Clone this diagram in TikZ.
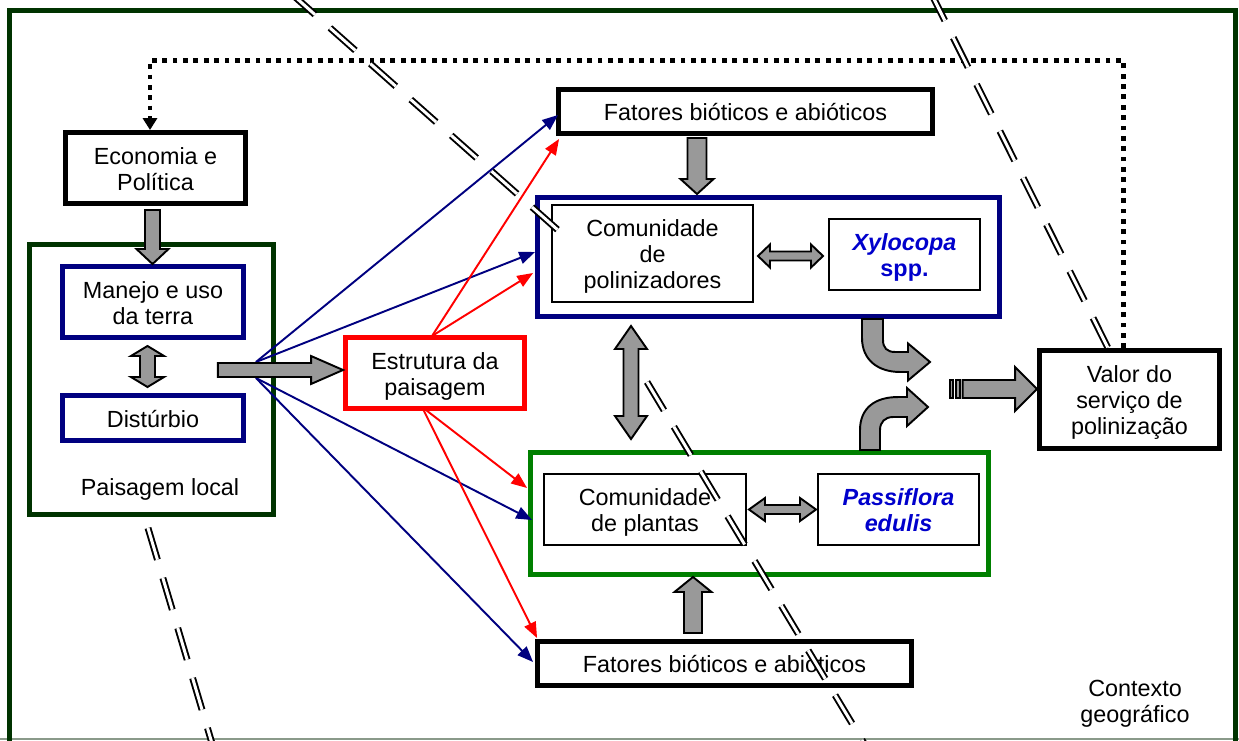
\documentclass[tikz,border=0pt]{standalone}
\usepackage{fontspec}
\setmainfont{Liberation Sans}
\usetikzlibrary{calc,arrows.meta}
\definecolor{dkgreen}{HTML}{003300}
\definecolor{navy}{HTML}{000080}
\definecolor{grn}{HTML}{008000}
\definecolor{txtblue}{HTML}{0000CC}
\definecolor{arrgray}{HTML}{999999}
\definecolor{edgegray}{HTML}{8A9A8A}
\newcommand\fs{\fontsize{13.3}{14.8}\selectfont}
\newcommand\tx[1]{\raisebox{-2.4pt}[\height][\depth]{\begin{tabular}{@{}c@{}}#1\end{tabular}}}
\newcommand\blkdown[5]{\filldraw[blockar] ($(#1)+(-#3,0)$) -- ($(#2)+(-#3,-#5)$) -- ($(#2)+(-#4,-#5)$) -- (#2) -- ($(#2)+(#4,-#5)$) -- ($(#2)+(#3,-#5)$) -- ($(#1)+(#3,0)$) -- cycle;}
\newcommand\blkup[5]{\filldraw[blockar] ($(#1)+(-#3,0)$) -- ($(#2)+(-#3,#5)$) -- ($(#2)+(-#4,#5)$) -- (#2) -- ($(#2)+(#4,#5)$) -- ($(#2)+(#3,#5)$) -- ($(#1)+(#3,0)$) -- cycle;}
\newcommand\blkright[5]{\filldraw[blockar] ($(#1)+(0,-#3)$) -- ($(#2)+(-#5,-#3)$) -- ($(#2)+(-#5,-#4)$) -- (#2) -- ($(#2)+(-#5,#4)$) -- ($(#2)+(-#5,#3)$) -- ($(#1)+(0,#3)$) -- cycle;}
\newcommand\blkvv[5]{\filldraw[blockar] (#1) -- ($(#1)+(#4,#5)$) -- ($(#1)+(#3,#5)$) -- ($(#2)+(#3,-#5)$) -- ($(#2)+(#4,-#5)$) -- (#2) -- ($(#2)+(-#4,-#5)$) -- ($(#2)+(-#3,-#5)$) -- ($(#1)+(-#3,#5)$) -- ($(#1)+(-#4,#5)$) -- cycle;}
\newcommand\blkhh[5]{\filldraw[blockar] (#1) -- ($(#1)+(#5,-#4)$) -- ($(#1)+(#5,-#3)$) -- ($(#2)+(-#5,-#3)$) -- ($(#2)+(-#5,-#4)$) -- (#2) -- ($(#2)+(-#5,#4)$) -- ($(#2)+(-#5,#3)$) -- ($(#1)+(#5,#3)$) -- ($(#1)+(#5,#4)$) -- cycle;}
\tikzset{
  box/.style={rectangle, fill=white, inner sep=0pt, font=\fs},
  bkbox/.style={box, draw=black, line width=3pt},
  nvbox/.style={box, draw=navy, line width=3pt},
  rdbox/.style={box, draw=red, line width=3pt},
  gnbox/.style={box, draw=grn, line width=3pt},
  dgbox/.style={box, draw=dkgreen, line width=3pt},
  thinbox/.style={box, draw=black, line width=1.2pt},
  blockar/.style={fill=arrgray, draw=black, line width=1.1pt, line join=miter},
  navyarr/.style={draw=navy, line width=1.1pt, -{Triangle[length=9pt,width=7pt]}},
  redarr/.style={draw=red, line width=1.1pt, -{Triangle[length=9pt,width=7pt]}},
  dotline/.style={draw=black, line width=2.6pt, dash pattern=on 2.7pt off 3.2pt, -{Triangle[length=6.8pt,width=8pt]}},
  ddash/.style={draw=black, line width=1.1pt, double=white, double distance=1.7pt, dash pattern=on 18.8pt off 10.9pt},
}
\begin{document}
\begin{tikzpicture}[x=0.02cm, y=-0.02cm]
\useasboundingbox (0,0) rectangle (1239,740);
\clip (0,0) rectangle (1239,740);
\fill[white] (0,0) rectangle (1239,740);
% frame
\draw[edgegray, line width=0.6pt] (0,739) -- (1239,739);
\draw[dkgreen, line width=2.85pt] (9.5,10.5) rectangle (1235.5,760);

% boxes
\node[bkbox, minimum width=3.594cm, minimum height=1.414cm] (eco) at (155.5,168) {\tx{Economia e\\Política}};
\node[dgbox, minimum width=4.874cm, minimum height=5.394cm] (pl) at (151.5,379.5) {};
\node[nvbox, minimum width=3.614cm, minimum height=1.414cm] (man) at (153,302) {\tx{Manejo e uso\\da terra}};
\node[nvbox, minimum width=3.614cm, minimum height=0.894cm] (dis) at (153,418) {\tx{Distúrbio}};
\node[font=\fs] (pltxt) at (160,489) {Paisagem local};
\node[rdbox, minimum width=3.574cm, minimum height=1.414cm] (est) at (435,373) {\tx{Estrutura da\\paisagem}};
\node[bkbox, minimum width=7.474cm, minimum height=0.874cm] (fat1) at (745.5,111.5) {\tx{Fatores bióticos e abióticos}};
\node[nvbox, minimum width=9.234cm, minimum height=2.374cm] (pol) at (768.5,257) {};
\node[thinbox, minimum width=4.018cm, minimum height=1.938cm] (polin) at (652.5,253.5) {\tx{Comunidade\\de\\polinizadores}};
\node[thinbox, minimum width=3.018cm, minimum height=1.418cm, text=txtblue] (xyl) at (904.5,254.5) {\tx{\bfseries\itshape Xylocopa\\\bfseries spp.}};
\node[gnbox, minimum width=9.154cm, minimum height=2.434cm] (plantas) at (759.5,513.5) {};
\node[thinbox, minimum width=4.038cm, minimum height=1.418cm] (plin) at (645,509.5) {\tx{Comunidade\\de plantas}};
\node[thinbox, minimum width=3.218cm, minimum height=1.418cm, text=txtblue] (pas) at (898.5,509.5) {\tx{\bfseries\itshape Passiflora\\\bfseries\itshape edulis}};
\node[bkbox, minimum width=7.474cm, minimum height=0.874cm] (fat2) at (724.5,663.5) {\tx{Fatores bióticos e abióticos}};
\node[bkbox, minimum width=3.594cm, minimum height=1.954cm] (val) at (1129.5,399.5) {\tx{Valor do\\serviço de\\polinização}};
\node[font=\fs, align=center] (ctx) at (1135,704) {Contexto\\geográfico};

% coordinates for block arrows
\coordinate (a1s) at ($(eco.south)+(-3,4)$);
\coordinate (a1t) at (a1s |- man.north);
\coordinate (a2t) at ($(man.south)+(-5.5,6)$);
\coordinate (a2b) at ($(a2t |- dis.north)+(0,-6)$);
\coordinate (gtail) at ($(pl.east)+(-58,-9.5)$);
\coordinate (a3t) at (gtail -| est.west);
\coordinate (a4s) at ($(fat1.south)+(-48.5,2)$);
\coordinate (a4t) at ($(a4s |- pol.north)+(0,-1)$);
\coordinate (a5l) at ($(polin.east)+(4,2.5)$);
\coordinate (a5r) at ($(a5l -| xyl.west)+(-5,0)$);
\coordinate (a6t) at ($(pol.south)+(-137.5,7)$);
\coordinate (a6b) at ($(a6t |- plantas.north)+(0,-11)$);
\coordinate (a7l) at ($(plin.east)+(2,0)$);
\coordinate (a7r) at ($(a7l -| pas.west)+(-1,0)$);
\coordinate (a8s) at ($(fat2.north)+(-31.5,-6)$);
\coordinate (a8t) at (a8s |- plantas.south);
\coordinate (c1) at ($(pol.south)+(93.5,0)$);
\coordinate (c2) at ($(plantas.north)+(100.5,0)$);
\coordinate (a11t) at ($(val.west)+(0,-10.5)$);
\coordinate (a11s) at ($(a11t)+(-74.5,0)$);
\coordinate (fanU) at ($(gtail)+(38,-8)$);
\coordinate (fanL) at ($(gtail)+(38,8)$);
\coordinate (eU) at ($(est.north)+(-3,1)$);
\coordinate (eL) at ($(est.south)+(-13,-4)$);

% block arrows
\blkdown{a1s}{a1t}{7.5}{16}{15}
\blkvv{a2t}{a2b}{7.5}{16.5}{10}
\blkdown{a4s}{a4t}{9.5}{16.5}{15}
\blkhh{a5l}{a5r}{4.5}{11.5}{12}
\blkvv{a6t}{a6b}{7.5}{16}{23}
\blkhh{a7l}{a7r}{4.5}{11.5}{16}
\blkup{a8s}{a8t}{9}{18.5}{15}
\begin{scope}[shift={(c1)}]
\filldraw[blockar] (0,0) -- (0,19) .. controls (0,41) and (16,53) .. (38,53) -- (46,53) -- (46,61.5) -- (68,43) -- (46,24.5) -- (46,33) -- (33,33) .. controls (25,33) and (21,29) .. (21,21) -- (21,0) -- cycle;
\end{scope}
\begin{scope}[shift={(c2)}]
\filldraw[blockar] (0,0) -- (0,-20) .. controls (0,-42) and (15,-53) .. (38,-53) -- (47,-53) -- (47,-62) -- (68,-43) -- (47,-24) -- (47,-33) -- (33,-33) .. controls (25,-33) and (20,-28) .. (20,-20) -- (20,0) -- cycle;
\end{scope}
\filldraw[blockar] ($(a11s)+(-12.5,-9)$) rectangle ($(a11s)+(-9.5,9)$);
\filldraw[blockar] ($(a11s)+(-7,-9)$) rectangle ($(a11s)+(-2.5,9)$);
\blkright{a11s}{a11t}{9}{22}{22}

% dotted feedback line
\draw[dotline] ($(val.north)+(-6,0)$) -- ++(0,-287.5) -| ($(eco.north)+(-5.5,0)$);

% fan of influences
\draw[navyarr] (fanU) -- ($(fat1.west)+(2,3.5)$);
\draw[navyarr] (fanU) -- ($(pol.west)+(0,-5)$);
\draw[navyarr] (fanL) -- ($(plantas.west)+(4,6.5)$);
\draw[navyarr] (fanL) -- ($(fat2.west)+(-2,-1.5)$);
\draw[redarr] (eU) -- ($(fat1.south west)+(3,3)$);
\draw[redarr] (eU) -- ($(pol.west)+(-2,16)$);
\draw[redarr] (eL) -- ($(plantas.west)+(-1,-25.5)$);
\draw[redarr] (eL) -- ($(fat2.north west)+(2,-1)$);

\blkright{gtail}{a3t}{7}{14}{32}

% double dashed scale lines
\draw[ddash, dash pattern=on 19.35pt off 11.4pt] (289.5,-8) -- (559,231);
\draw[ddash] (647,382) -- (865,745);
\draw[ddash] (930,-9) -- (1108,348);
\draw[ddash] (148,528) -- (225,787);
\end{tikzpicture}
\end{document}
